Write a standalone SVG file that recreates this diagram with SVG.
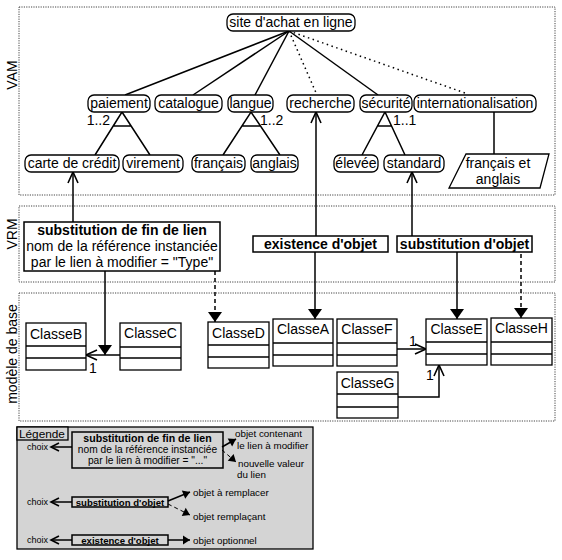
<svg xmlns="http://www.w3.org/2000/svg" width="562" height="560" viewBox="0 0 562 560">
<style>
text{font-family:"Liberation Sans",Arial,sans-serif;font-size:14px;fill:#000}
.c{text-anchor:middle}
.b{font-weight:bold}
.layer{fill:none;stroke:#444;stroke-width:1;stroke-dasharray:1.2,1.2}
.node{fill:#fff;stroke:#000;stroke-width:1.3}
.box{fill:#fff;stroke:#000;stroke-width:1.5}
.ln{fill:none;stroke:#000;stroke-width:1.5}
.dot{fill:none;stroke:#000;stroke-width:1.5;stroke-dasharray:1.5,3.5}
.dash{fill:none;stroke:#000;stroke-width:1.5;stroke-dasharray:4,3}
.cls{fill:#fff;stroke:#000;stroke-width:1.3}
.lg{font-size:10.5px}
.lgb{font-size:9.6px;font-weight:bold}
.lgr{font-size:9.8px}
.ch{font-size:9px}
</style>
<defs>
<marker id="open" markerUnits="userSpaceOnUse" markerWidth="14" markerHeight="14" refX="11" refY="5" orient="auto" overflow="visible">
<path d="M0,0 L11,5 L0,10" fill="none" stroke="#000" stroke-width="1.6"/>
</marker>
<marker id="fill" markerUnits="userSpaceOnUse" markerWidth="14" markerHeight="16" refX="10" refY="7" orient="auto" overflow="visible">
<path d="M0,0 L10,7 L0,14 z" fill="#000"/>
</marker>
<marker id="fills" markerUnits="userSpaceOnUse" markerWidth="10" markerHeight="10" refX="7" refY="4.5" orient="auto" overflow="visible">
<path d="M0,0 L7,4.5 L0,9 z" fill="#000"/>
</marker>
<marker id="opens" markerUnits="userSpaceOnUse" markerWidth="10" markerHeight="10" refX="8" refY="4" orient="auto" overflow="visible">
<path d="M0,0 L8,4 L0,8" fill="none" stroke="#000" stroke-width="1.6"/>
</marker>
</defs>

<!-- layers -->
<g id="layers">
<rect class="layer" x="19" y="7" width="536" height="188"/>
<text transform="translate(17,75) rotate(-90)" class="c">VAM</text>
<rect class="layer" x="19" y="206" width="536" height="76"/>
<text transform="translate(17,234) rotate(-90)" class="c">VRM</text>
<rect class="layer" x="19" y="293" width="536" height="128"/>
<text transform="translate(17,354) rotate(-90)" class="c">modèle de base</text>
</g>

<!-- connectors -->
<g id="connectors">
<line class="ln" x1="289" y1="31" x2="125" y2="95"/>
<line class="ln" x1="289" y1="31" x2="193" y2="95"/>
<line class="ln" x1="289" y1="31" x2="255" y2="95"/>
<line class="dot" x1="289" y1="31" x2="317" y2="95"/>
<line class="ln" x1="289" y1="31" x2="378" y2="95"/>
<line class="dot" x1="289" y1="31" x2="465" y2="93"/>
<line class="ln" x1="494" y1="112" x2="494" y2="154"/>
<!-- groups -->
<path class="ln" d="M95,155 L122,112 L150,155 M113.2,126 L131.1,126"/>
<text x="110" y="125" style="text-anchor:end">1..2</text>
<path class="ln" d="M223,155 L251,112 L280,155 M241.9,126 L260.5,126"/>
<text x="260" y="125">1..2</text>
<path class="ln" d="M362,155 L385,112 L405,155 M377.5,126 L391.5,126"/>
<text x="393" y="125">1..1</text>
<!-- VRM to VAM -->
<line class="ln" x1="73" y1="222" x2="73" y2="172" marker-end="url(#open)"/>
<line class="ln" x1="316" y1="236" x2="316" y2="112" marker-end="url(#open)"/>
<line class="ln" x1="412" y1="236" x2="412" y2="172" marker-end="url(#open)"/>
<!-- VRM to base -->
<line class="ln" x1="105" y1="271" x2="105" y2="355" marker-end="url(#fill)"/>
<line class="dash" x1="215" y1="271" x2="215" y2="322" marker-end="url(#fill)"/>
<line class="ln" x1="315" y1="252" x2="315" y2="319" marker-end="url(#fill)"/>
<line class="ln" x1="457" y1="252" x2="457" y2="319" marker-end="url(#fill)"/>
<line class="dash" x1="521" y1="254" x2="521" y2="318" marker-end="url(#fill)"/>
<!-- associations -->
<line class="ln" x1="120" y1="355" x2="86" y2="355" marker-end="url(#open)"/>
<text x="89" y="373">1</text>
<line class="ln" x1="397" y1="349" x2="426" y2="349" marker-end="url(#open)"/>
<text x="409" y="346">1</text>
<polyline class="ln" points="398,397 439,397 439,365" marker-end="url(#open)"/>
<text x="426" y="380">1</text>
</g>

<!-- VAM nodes -->
<g id="n-site"><rect class="node" x="227" y="14" width="128" height="17" rx="6"/><text class="c" x="291" y="27">site d'achat en ligne</text></g>
<g id="n-paiement"><rect class="node" x="88" y="95" width="62" height="17" rx="6"/><text class="c" x="119" y="108">paiement</text></g>
<g id="n-catalogue"><rect class="node" x="155" y="95" width="67" height="17" rx="6"/><text class="c" x="188.5" y="108">catalogue</text></g>
<g id="n-langue"><rect class="node" x="228" y="95" width="45" height="17" rx="6"/><text class="c" x="250.5" y="108">langue</text></g>
<g id="n-recherche"><rect class="node" x="287" y="95" width="67" height="17" rx="6"/><text class="c" x="320.5" y="108">recherche</text></g>
<g id="n-securite"><rect class="node" x="360" y="95" width="52" height="17" rx="6"/><text class="c" x="386" y="108">sécurité</text></g>
<g id="n-inter"><rect class="node" x="414" y="95" width="122" height="17" rx="6"/><text class="c" x="475" y="108">internationalisation</text></g>
<g id="n-carte"><rect class="node" x="25" y="155" width="94" height="17" rx="6"/><text class="c" x="72" y="168">carte de crédit</text></g>
<g id="n-virement"><rect class="node" x="123" y="155" width="60" height="17" rx="6"/><text class="c" x="153" y="168">virement</text></g>
<g id="n-francais"><rect class="node" x="192" y="155" width="53" height="17" rx="6"/><text class="c" x="218.5" y="168">français</text></g>
<g id="n-anglais"><rect class="node" x="251" y="155" width="47" height="17" rx="6"/><text class="c" x="274.5" y="168">anglais</text></g>
<g id="n-elevee"><rect class="node" x="334" y="155" width="44" height="17" rx="6"/><text class="c" x="356" y="168">élevée</text></g>
<g id="n-standard"><rect class="node" x="384" y="155" width="60" height="17" rx="6"/><text class="c" x="414" y="168">standard</text></g>
<g id="n-fr-en"><polygon class="node" points="466,154 549,154 540,188 449,188"/><text class="c" x="498" y="168">français et</text><text class="c" x="498" y="184">anglais</text></g>

<!-- VRM nodes -->
<g id="v-subfin"><rect class="box" x="24" y="222" width="196" height="49"/>
<text class="c b" x="122" y="235">substitution de fin de lien</text>
<text class="c" x="122" y="251">nom de la référence instanciée</text>
<text class="c" x="122" y="267">par le lien à modifier = "Type"</text></g>
<g id="v-exist"><rect class="box" x="253" y="236" width="135" height="16"/><text class="c b" x="320.5" y="249">existence d'objet</text></g>
<g id="v-subobj"><rect class="box" x="397" y="236" width="135" height="16"/><text class="c b" x="464.5" y="249">substitution d'objet</text></g>

<!-- classes -->
<g id="c-B"><rect class="cls" x="26" y="323" width="60" height="47"/><path class="ln" d="M26,346H86M26,358H86" style="stroke-width:1.3"/><text class="c" x="56" y="339">ClasseB</text></g>
<g id="c-C"><rect class="cls" x="120" y="323" width="61" height="47"/><path class="ln" d="M120,347H181M120,358H181" style="stroke-width:1.3"/><text class="c" x="150.5" y="338">ClasseC</text></g>
<g id="c-D"><rect class="cls" x="208" y="322" width="61" height="46"/><path class="ln" d="M208,345H269M208,357H269" style="stroke-width:1.3"/><text class="c" x="238.5" y="338">ClasseD</text></g>
<g id="c-A"><rect class="cls" x="273" y="319" width="60" height="47"/><path class="ln" d="M273,343H333M273,355H333" style="stroke-width:1.3"/><text class="c" x="303" y="334">ClasseA</text></g>
<g id="c-F"><rect class="cls" x="337" y="319" width="60" height="47"/><path class="ln" d="M337,343H397M337,355H397" style="stroke-width:1.3"/><text class="c" x="367" y="334">ClasseF</text></g>
<g id="c-E"><rect class="cls" x="426" y="319" width="61" height="46"/><path class="ln" d="M426,342H487M426,354H487" style="stroke-width:1.3"/><text class="c" x="456.5" y="334">ClasseE</text></g>
<g id="c-H"><rect class="cls" x="491" y="318" width="61" height="47"/><path class="ln" d="M491,342H552M491,354H552" style="stroke-width:1.3"/><text class="c" x="521.5" y="333">ClasseH</text></g>
<g id="c-G"><rect class="cls" x="337" y="372" width="61" height="46"/><path class="ln" d="M337,394H398M337,407H398" style="stroke-width:1.3"/><text class="c" x="367.5" y="388">ClasseG</text></g>

<!-- legend -->
<g id="legend">
<rect x="17" y="427" width="296" height="122" fill="#d4d4d4" stroke="#000" stroke-width="1.3"/>
<rect x="17" y="427" width="51" height="13" fill="#d4d4d4" stroke="#000" stroke-width="1.3"/>
<text x="19" y="438" style="font-size:11.8px">Légende</text>
<rect x="72" y="432" width="151" height="36" fill="none" stroke="#000" stroke-width="1.5"/>
<text class="c lgb" x="147.5" y="442" style="font-size:10.6px">substitution de fin de lien</text>
<text class="c lg" x="147.5" y="452.5" style="font-size:10.2px">nom de la référence instanciée</text>
<text class="c lg" x="147.5" y="463.5" style="font-size:10.2px">par le lien à modifier = "..."</text>
<text class="ch" x="27" y="450">choix</text>
<line class="ln" x1="72" y1="447" x2="51" y2="447" marker-end="url(#opens)"/>
<line class="ln" x1="222" y1="447" x2="236" y2="439" marker-end="url(#fills)"/>
<line class="dash" x1="222" y1="450" x2="236" y2="462" marker-end="url(#fills)" style="stroke-width:1"/>
<text class="lgr" x="235" y="437">objet contenant</text>
<text class="lgr" x="237" y="449">le lien à modifier</text>
<text class="lgr" x="238" y="467">nouvelle valeur</text>
<text class="lgr" x="237" y="478">du lien</text>

<rect x="72" y="497" width="96" height="10" fill="none" stroke="#000" stroke-width="1.5"/>
<text class="c lgb" x="120" y="505.5">substitution d'objet</text>
<text class="ch" x="27" y="505">choix</text>
<line class="ln" x1="72" y1="502" x2="51" y2="502" marker-end="url(#opens)"/>
<line class="ln" x1="168" y1="501" x2="190" y2="492" marker-end="url(#fills)"/>
<line class="dash" x1="168" y1="504" x2="190" y2="515" marker-end="url(#fills)" style="stroke-width:1"/>
<text class="lgr" x="193" y="496">objet à remplacer</text>
<text class="lgr" x="193" y="520">objet remplaçant</text>

<rect x="72" y="535" width="96" height="10" fill="none" stroke="#000" stroke-width="1.5"/>
<text class="c lgb" x="120" y="543.5">existence d'objet</text>
<text class="ch" x="27" y="543">choix</text>
<line class="ln" x1="72" y1="540" x2="51" y2="540" marker-end="url(#opens)"/>
<line class="ln" x1="168" y1="540" x2="190" y2="540" marker-end="url(#fills)"/>
<text class="lgr" x="193" y="544">objet optionnel</text>
</g>
</svg>
